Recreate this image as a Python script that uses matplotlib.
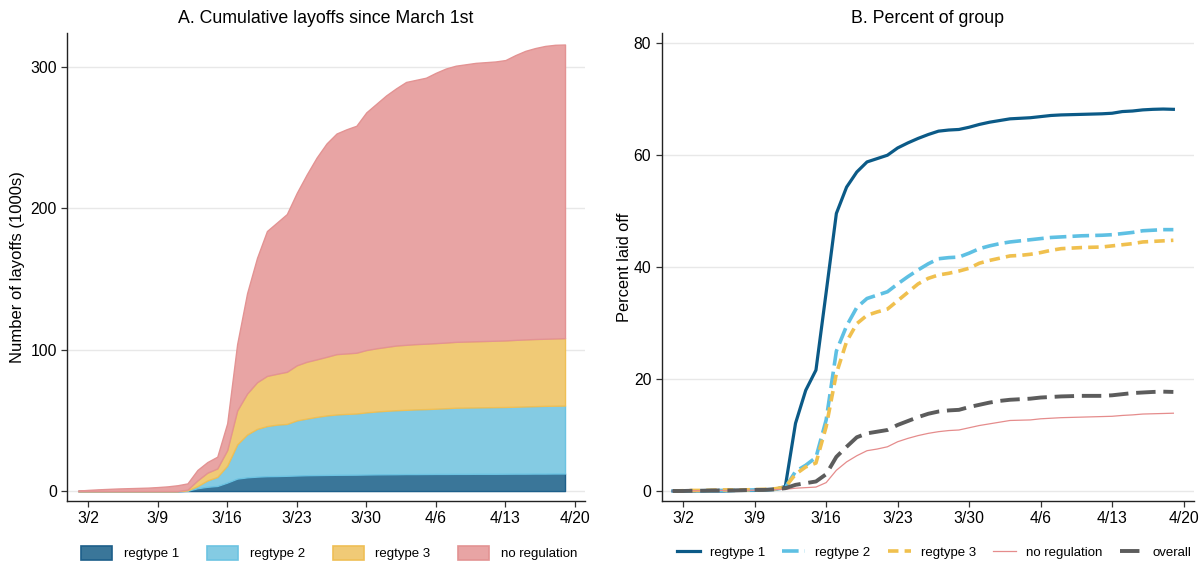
import matplotlib
matplotlib.use("Agg")
import matplotlib.pyplot as plt
import pandas as pd
from matplotlib.patches import Patch

plt.rcParams['font.family'] = ['Liberation Sans', 'DejaVu Sans']

# daily dates 3/1 - 4/19
dates = pd.date_range("2020-03-01", "2020-04-19")
tick_dates = pd.date_range("2020-03-02", "2020-04-20", freq="7D")
tick_labels = [f"{d.month}/{d.day}" for d in tick_dates]

groups = ['regtype 1', 'regtype 2', 'regtype 3', 'no regulation']

# Panel A: cumulative layoffs (1000s) by group
lay_reg1 = [0, 0, 0, 0, 0, 0, 0, 0, 0, 0, 0,
            0.2, 2.0, 3.0, 3.6, 6.0, 8.8, 9.7, 10.2, 10.5, 10.6,
            10.8, 11.0, 11.2, 11.3, 11.4, 11.5, 11.55, 11.6, 11.7, 11.8,
            11.85, 11.9, 12.0, 12.0, 12.05, 12.1, 12.1, 12.15, 12.15, 12.2,
            12.2, 12.2, 12.25, 12.3, 12.3, 12.35, 12.35, 12.4, 12.4]
lay_reg2 = [0, 0, 0, 0, 0, 0, 0, 0, 0, 0, 0,
            0.3, 1.5, 4.5, 6.4, 12.0, 24.2, 30.3, 33.8, 35.5, 36.4,
            36.7, 39.0, 40.1, 41.2, 42.1, 42.7, 43.05, 43.3, 44.0, 44.5,
            44.95, 45.3, 45.5, 45.8, 45.95, 46.2, 46.5, 46.85, 46.95, 47.0,
            47.1, 47.2, 47.25, 47.4, 47.6, 47.75, 47.95, 48.0, 48.1]
lay_reg3 = [0, 0, 0, 0, 0, 0, 0, 0, 0, 0, 0,
            0.5, 4.0, 5.5, 6.0, 11.0, 24.0, 29.0, 33.0, 35.5, 36.0,
            36.9, 39.0, 40.2, 40.7, 41.5, 42.7, 42.8, 43.0, 44.1, 44.7,
            45.2, 45.8, 46.0, 46.2, 46.3, 46.4, 46.5, 46.6, 46.7, 46.8,
            46.9, 47.0, 47.1, 47.3, 47.4, 47.5, 47.5, 47.6, 47.7]
lay_noreg = [0.3, 0.8, 1.2, 1.5, 1.8, 2.0, 2.2, 2.4, 2.8, 3.3,
             4.1, 4.4, 7.4, 7.5, 8.3, 19, 47, 71, 88, 102.5,
             107, 111.6, 122, 132.5, 142.8, 151, 156.1, 158.6, 160.6, 168.2,
             173, 178, 182, 186, 187, 188.2, 191.3, 193.9, 195.4, 196.2,
             197, 197.3, 197.6, 198.4, 201.5, 204.2, 205.9, 207.2, 207.8, 207.8]

# Panel B: percent of group laid off
pct_reg1 = [0.0, 0.0, 0.0, 0.0, 0.0, 0.0, 0.1, 0.1, 0.1, 0.2, 0.3,
            0.8, 12.1, 18.0, 21.6, 35.5, 49.6, 54.3, 57.0, 58.8, 59.4,
            60.0, 61.3, 62.2, 63.0, 63.7, 64.3, 64.5, 64.6, 65.0, 65.5,
            65.9, 66.2, 66.5, 66.6, 66.7, 66.9, 67.1, 67.2, 67.25, 67.3,
            67.35, 67.4, 67.5, 67.8, 67.9, 68.1, 68.2, 68.25, 68.2]
pct_reg2 = [0.0, 0.0, 0.0, 0.05, 0.1, 0.1, 0.1, 0.15, 0.2, 0.2, 0.3,
            0.6, 3.5, 4.6, 6.0, 12.7, 25.0, 29.5, 32.8, 34.4, 35.0,
            35.6, 37.0, 38.3, 39.5, 40.6, 41.5, 41.7, 41.8, 42.5, 43.3,
            43.8, 44.2, 44.5, 44.7, 44.9, 45.1, 45.3, 45.4, 45.5, 45.6,
            45.65, 45.7, 45.8, 46.0, 46.2, 46.5, 46.6, 46.7, 46.7]
pct_reg3 = [0.0, 0.05, 0.1, 0.1, 0.15, 0.2, 0.2, 0.2, 0.25, 0.3, 0.4,
            0.7, 3.0, 4.3, 5.0, 11.5, 21.0, 26.7, 29.9, 31.4, 32.0,
            32.5, 34.0, 35.5, 37.0, 38.0, 38.6, 38.9, 39.3, 39.8, 40.7,
            41.2, 41.6, 42.0, 42.1, 42.3, 42.6, 43.0, 43.3, 43.4, 43.5,
            43.55, 43.6, 43.8, 44.0, 44.2, 44.5, 44.6, 44.7, 44.8]
pct_noreg = [0.0, 0.0, 0.05, 0.05, 0.1, 0.1, 0.1, 0.1, 0.15, 0.2, 0.25,
             0.3, 0.5, 0.6, 0.7, 1.5, 3.7, 5.2, 6.3, 7.2, 7.5,
             7.9, 8.8, 9.4, 9.9, 10.3, 10.6, 10.8, 10.9, 11.3, 11.7,
             12.0, 12.3, 12.6, 12.65, 12.7, 12.9, 13.0, 13.1, 13.15, 13.2,
             13.25, 13.3, 13.35, 13.5, 13.6, 13.75, 13.8, 13.85, 13.9]
pct_all = [0.0, 0.0, 0.05, 0.05, 0.1, 0.1, 0.1, 0.15, 0.2, 0.2, 0.3,
           0.5, 1.1, 1.4, 1.7, 3.0, 6.1, 7.9, 9.6, 10.3, 10.6,
           10.9, 11.8, 12.5, 13.2, 13.8, 14.2, 14.4, 14.5, 15.0, 15.4,
           15.8, 16.1, 16.3, 16.4, 16.5, 16.7, 16.8, 16.9, 16.95, 17.0,
           17.0, 17.0, 17.1, 17.3, 17.5, 17.6, 17.7, 17.75, 17.7]

line_cols = ['#0b5a87', '#5ec0e3', '#f0c04e', '#e58c8c']
fill_cols = ['#3a7699', '#84cbe3', '#f0ca76', '#e8a4a4']
edge_cols = ['#1d5f8a', '#6cc3e2', '#efbf55', '#e39393']
overall_col = '#5c5c5c'

fig = plt.figure(figsize=(12.01, 5.63), dpi=100)
ax1 = fig.add_axes([0.056, 0.110, 0.431, 0.831])
ax2 = fig.add_axes([0.551, 0.110, 0.443, 0.831])

xlo = pd.Timestamp("2020-03-01") - pd.Timedelta(days=1.1)
xhi = pd.Timestamp("2020-04-21")


def style(ax):
    for s in ['top', 'right']:
        ax.spines[s].set_visible(False)
    for s in ['left', 'bottom']:
        ax.spines[s].set_color('#222222')
        ax.spines[s].set_linewidth(1.0)
    ax.grid(axis='y', color='#e8e8e8', linewidth=1.0)
    ax.set_axisbelow(True)
    ax.tick_params(axis='both', length=4.5, width=0.9, color='#333333',
                   labelsize=11.3, pad=3)
    ax.set_xticks(tick_dates)
    ax.set_xticklabels(tick_labels)
    ax.set_xlim(xlo, xhi)


# panel A: stacked areas
ax1.stackplot(dates, lay_reg1, lay_reg2, lay_reg3, lay_noreg,
              colors=fill_cols, linewidth=1.0)
for coll, ec in zip(ax1.collections, edge_cols):
    coll.set_edgecolor(ec)
style(ax1)
ax1.set_ylim(-7.1, 324)
ax1.set_yticks([0, 100, 200, 300])
ax1.set_ylabel("Number of layoffs (1000s)", fontsize=12, labelpad=4)
ax1.set_title("A. Cumulative layoffs since March 1st", fontsize=12.8, pad=7)

handles1 = [Patch(facecolor=f, edgecolor=e, linewidth=1.2)
            for f, e in zip(fill_cols, edge_cols)]
ax1.legend(handles1, groups, loc='center left',
           bbox_to_anchor=(0.062, 0.018), bbox_transform=fig.transFigure,
           ncol=4, frameon=False, fontsize=9.5, borderpad=0,
           handlelength=2.35, handleheight=1.3, handletextpad=0.9,
           columnspacing=2.1)

# panel B: lines
ax2.plot(dates, pct_reg1, color=line_cols[0], lw=2.3, label='regtype 1')
ax2.plot(dates, pct_reg2, color=line_cols[1], lw=2.6,
         linestyle=(0, (4.6, 1.7)), label='regtype 2')
ax2.plot(dates, pct_reg3, color=line_cols[2], lw=2.6,
         linestyle=(0, (2.9, 1.7)), label='regtype 3')
ax2.plot(dates, pct_noreg, color=line_cols[3], lw=0.9, label='no regulation')
ax2.plot(dates, pct_all, color=overall_col, lw=2.8,
         linestyle=(0, (5.0, 2.0)), label='overall')
style(ax2)
ax2.set_ylim(-1.8, 81.8)
ax2.set_yticks([0, 20, 40, 60, 80])
ax2.set_ylabel("Percent laid off", fontsize=11.8, labelpad=1)
ax2.set_title("B. Percent of group", fontsize=12.8, pad=7)
ax2.legend(loc='center left', bbox_to_anchor=(0.558, 0.018),
           bbox_transform=fig.transFigure, ncol=5, frameon=False,
           fontsize=9.5, borderpad=0, handlelength=1.75, handletextpad=0.76,
           columnspacing=1.3)

fig.savefig("out.png", dpi=100)
